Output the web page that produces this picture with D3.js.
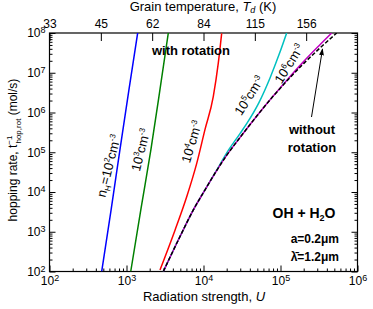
<!DOCTYPE html>
<html lang="en">
<head>
<meta charset="UTF-8">
<title>Hopping rate vs radiation strength</title>
<script src="https://d3js.org/d3.v7.min.js"></script>
<style>
  body { margin: 0; background: #fff; }
  svg { display: block; font-family: "Liberation Sans", Arial, sans-serif; }
  .axis path, .axis line { stroke: #000; }
  .axis text { font-size: 12px; fill: #000; }
  .lbl { font-size: 13px; }
  .bold { font-weight: bold; }
</style>
</head>
<body>
<svg id="chart" width="373" height="309"></svg>
<script>
// log10(U) -> log10(rate)
const blueU  = [2.678, 2.80, 2.916, 3.03, 3.145];
const blueR  = [2.0, 3.55, 5.08, 6.55, 8.0];
const greenU = [3.055, 3.19, 3.318, 3.435, 3.543];
const greenR = [2.0, 3.6, 5.08, 6.58, 8.0];
const redU   = [3.435, 3.63, 3.782, 3.912, 4.019, 4.127, 4.192, 4.236];
const redR   = [2.04, 3.04, 3.88, 4.72, 5.57, 6.40, 7.24, 7.99];
const cyanU  = [3.478, 3.695, 3.868, 4.0, 4.171, 4.30, 4.474, 4.561, 4.72, 4.864, 4.98, 5.08];
const cyanR  = [2.0, 2.88, 3.55, 3.99, 4.55, 4.98, 5.47, 5.72, 6.25, 6.87, 7.45, 8.0];
const magU   = [3.478, 3.695, 3.868, 4.0, 4.171, 4.3, 4.474, 4.70, 4.90, 5.10, 5.30, 5.50, 5.665];
const magR   = [2.0, 2.88, 3.55, 3.99, 4.54, 4.92, 5.37, 5.93, 6.40, 6.85, 7.28, 7.68, 8.0];
const noRotU = [3.478, 3.695, 3.868, 4.0, 4.171, 4.3, 4.474, 4.70, 4.90, 5.10, 5.30, 5.50, 5.73];
const noRotR = [2.0, 2.88, 3.55, 3.99, 4.54, 4.92, 5.37, 5.93, 6.40, 6.83, 7.23, 7.60, 8.0];

const xTicks = [1e2, 1e3, 1e4, 1e5, 1e6];
const yTicks = [1e2, 1e3, 1e4, 1e5, 1e6, 1e7, 1e8];
const tempLabels = ["33", "45", "62", "84", "115", "156"];
const tempPosLogU = [2, 8/3, 10/3, 4, 14/3, 16/3];

const svg = d3.select("#chart");
const x = d3.scaleLog().domain([1e2, 1e6]).range([49.5, 357.5]);
const y = d3.scaleLog().domain([1e2, 1e8]).range([271.5, 33]);
const L = 49.5, R = 357.5, T = 33, B = 271.5;

function minors(lo, hi) {
  const out = [];
  for (let e = lo; e < hi; e++) for (let m = 2; m <= 9; m++) out.push(m * Math.pow(10, e));
  return out;
}
function supLabel(sel) {
  sel.each(function(d) {
    const t = d3.select(this);
    t.text("");
    t.append("tspan").text("10");
    t.append("tspan").attr("dy", "-0.45em").style("font-size", "9px").text(Math.round(Math.log10(d)));
  });
}

// bottom axis
svg.append("g").attr("class", "axis").attr("transform", `translate(0,${B})`)
  .call(d3.axisBottom(x).tickValues(minors(2, 6)).tickSize(-3).tickFormat(""))
  .call(g => g.select(".domain").remove());
svg.append("g").attr("class", "axis").attr("transform", `translate(0,${B})`)
  .call(d3.axisBottom(x).tickValues(xTicks).tickSize(-6).tickPadding(5))
  .call(g => g.select(".domain").remove())
  .call(g => g.selectAll("text").call(supLabel));

// left axis
svg.append("g").attr("class", "axis").attr("transform", `translate(${L},0)`)
  .call(d3.axisLeft(y).tickValues(minors(2, 8)).tickSize(-3).tickFormat(""))
  .call(g => g.select(".domain").remove());
svg.append("g").attr("class", "axis").attr("transform", `translate(${L},0)`)
  .call(d3.axisLeft(y).tickValues(yTicks).tickSize(-6).tickPadding(4))
  .call(g => g.select(".domain").remove())
  .call(g => g.selectAll("text").call(supLabel));

// right axis
svg.append("g").attr("class", "axis").attr("transform", `translate(${R},0)`)
  .call(d3.axisRight(y).tickValues(minors(2, 8)).tickSize(-3).tickFormat(""))
  .call(g => g.select(".domain").remove());
svg.append("g").attr("class", "axis").attr("transform", `translate(${R},0)`)
  .call(d3.axisRight(y).tickValues(yTicks).tickSize(-6).tickFormat(""))
  .call(g => g.select(".domain").remove());

// top axis (grain temperature)
svg.append("g").attr("class", "axis").attr("transform", `translate(0,${T})`)
  .call(d3.axisTop(x).tickValues(tempPosLogU.map(v => Math.pow(10, v)))
    .tickSize(-8).tickPadding(5).tickFormat((d, i) => tempLabels[i]))
  .call(g => g.select(".domain").remove());

// frame
svg.append("rect").attr("x", L).attr("y", T).attr("width", R - L).attr("height", B - T)
  .attr("fill", "none").attr("stroke", "#000").attr("stroke-width", 1.2);

// curves
svg.append("clipPath").attr("id", "clip").append("rect")
  .attr("x", L).attr("y", T).attr("width", R - L).attr("height", B - T);
const line = d3.line().x(d => x(Math.pow(10, d[0]))).y(d => y(Math.pow(10, d[1]))).curve(d3.curveMonotoneX);
const series = [
  { u: blueU, r: blueR, c: "#0000ff" },
  { u: greenU, r: greenR, c: "#008000" },
  { u: redU, r: redR, c: "#ff0000" },
  { u: cyanU, r: cyanR, c: "#00c0c0" },
  { u: magU, r: magR, c: "#c000c0" },
  { u: noRotU, r: noRotR, c: "#000", dash: "4,2" }
];
const gl = svg.append("g").attr("clip-path", "url(#clip)");
series.forEach(s => {
  gl.append("path").datum(s.u.map((v, i) => [v, s.r[i]]))
    .attr("d", line).attr("fill", "none").attr("stroke", s.c)
    .attr("stroke-width", 1.5).attr("stroke-dasharray", s.dash || null);
});

// axis titles
const tt = svg.append("text").attr("class", "lbl").attr("x", 203).attr("y", 11).attr("text-anchor", "middle");
tt.append("tspan").text("Grain temperature, ");
tt.append("tspan").style("font-style", "italic").text("T");
tt.append("tspan").style("font-style", "italic").style("font-size", "9px").attr("dy", "2").text("d");
tt.append("tspan").attr("dy", "-2").text(" (K)");

const bt = svg.append("text").attr("class", "lbl").attr("x", 204).attr("y", 301).attr("text-anchor", "middle");
bt.append("tspan").text("Radiation strength, ");
bt.append("tspan").style("font-style", "italic").text("U");

const yt = svg.append("text").attr("class", "lbl").attr("transform", "translate(17,150) rotate(-90)")
  .attr("text-anchor", "middle").style("font-size", "12px");
yt.append("tspan").text("hopping rate, t");
yt.append("tspan").style("font-size", "8px").attr("dy", "-5").text("−1");
yt.append("tspan").style("font-size", "8px").attr("dx", "-8").attr("dy", "9").text("hop,rot");
yt.append("tspan").attr("dy", "-4").text(" (mol/s)");

// density labels along curves
function densLabel(cx, cy, ang, pre, exp) {
  const t = svg.append("text").attr("class", "lbl")
    .attr("transform", `translate(${cx},${cy}) rotate(${ang})`).attr("text-anchor", "middle")
    .style("font-size", "13px");
  if (pre) {
    t.append("tspan").text("n");
    t.append("tspan").style("font-size", "8px").attr("dy", "3").text("H");
    t.append("tspan").attr("dy", "-3").text("=10");
  } else {
    t.append("tspan").text("10");
  }
  t.append("tspan").style("font-size", "8px").attr("dy", "-5").text(exp);
  t.append("tspan").attr("dy", "5").text("cm");
  t.append("tspan").style("font-size", "8px").attr("dy", "-5").text("-3");
}
densLabel(113, 167, -76, true, "2");
densLabel(145, 151, -76, false, "3");
densLabel(196, 143, -73, false, "4");
densLabel(253, 98, -57, false, "5");
densLabel(293, 66, -58, false, "6");

// annotations
svg.append("text").attr("class", "lbl bold").attr("x", 191).attr("y", 55).attr("text-anchor", "middle").text("with rotation");
svg.append("text").attr("class", "lbl bold").attr("x", 312).attr("y", 134).attr("text-anchor", "middle").text("without");
svg.append("text").attr("class", "lbl bold").attr("x", 312).attr("y", 152).attr("text-anchor", "middle").text("rotation");

const defs = svg.append("defs");
defs.append("marker").attr("id", "arr").attr("viewBox", "0 0 10 10").attr("refX", 9).attr("refY", 5)
  .attr("markerWidth", 7).attr("markerHeight", 7).attr("orient", "auto")
  .append("path").attr("d", "M0,1.5 L10,5 L0,8.5 z").attr("fill", "#000");
svg.append("line").attr("x1", 311.5).attr("y1", 117).attr("x2", 322.5).attr("y2", 49)
  .attr("stroke", "#000").attr("stroke-width", 1).attr("marker-end", "url(#arr)");

const oh = svg.append("text").attr("class", "lbl bold").attr("x", 304).attr("y", 218)
  .attr("text-anchor", "middle").style("font-size", "14px");
oh.append("tspan").text("OH + H");
oh.append("tspan").style("font-size", "9px").attr("dy", "3").text("2");
oh.append("tspan").attr("dy", "-3").text("O");

svg.append("text").attr("class", "lbl bold").attr("x", 339).attr("y", 243).attr("text-anchor", "end")
  .style("font-size", "12px").text("a=0.2μm");
svg.append("text").attr("class", "lbl bold").attr("x", 339).attr("y", 261).attr("text-anchor", "end")
  .style("font-size", "12px").text("λ̄=1.2μm");
</script>
</body>
</html>
